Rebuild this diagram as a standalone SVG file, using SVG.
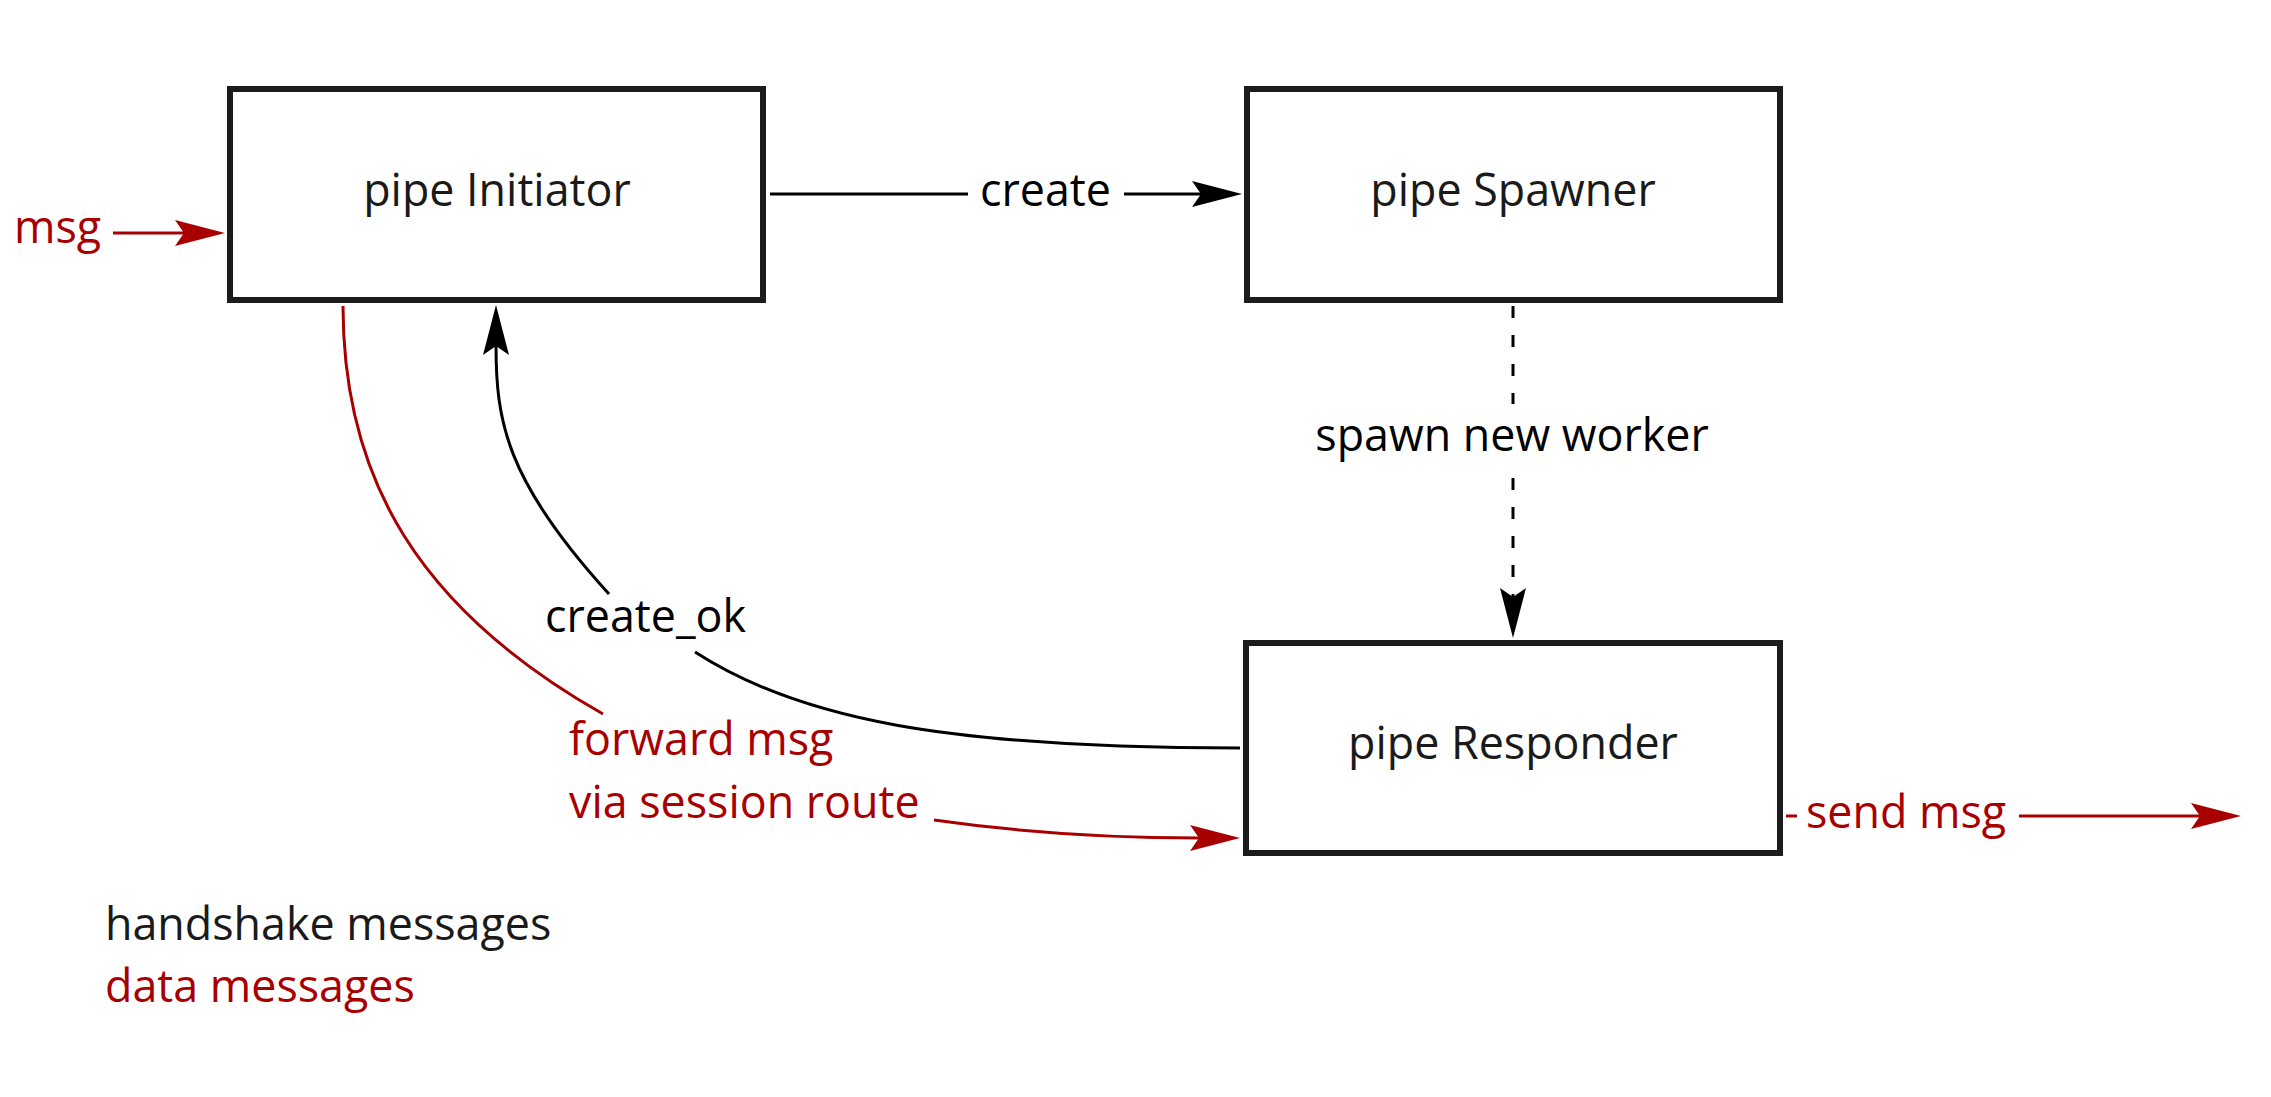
<svg xmlns="http://www.w3.org/2000/svg" width="2271" height="1097" viewBox="0 0 2271 1097">
<style>
text{font-family:"Open Sans","Noto Sans","DejaVu Sans",sans-serif;font-size:44.8px}
.box{fill:#fff;stroke:#1c1c1c;stroke-width:6}
.nt{fill:#1a1a1a;text-anchor:middle}
.lb{fill:#000}
.rd{fill:#a80000}
.hs{fill:#1a1a1a}
.ek{fill:none;stroke:#000;stroke-width:3}
.er{fill:none;stroke:#a80000;stroke-width:3}
</style>
<defs>
<marker id="ak" markerUnits="userSpaceOnUse" markerWidth="50" markerHeight="26" viewBox="0 0 50 26" refX="10" refY="13" orient="auto"><path d="M0,0 L50,13 L0,26 L9,13 z" fill="#000"/></marker>
<marker id="ar" markerUnits="userSpaceOnUse" markerWidth="50" markerHeight="26" viewBox="0 0 50 26" refX="10" refY="13" orient="auto"><path d="M0,0 L50,13 L0,26 L9,13 z" fill="#a80000"/></marker>
</defs>
<rect width="2271" height="1097" fill="#fff"/>
<g id="connectors">
<path class="er" d="M113,233 L185,233" marker-end="url(#ar)"/>
<path class="ek" d="M770,194 L968,194"/>
<path class="ek" d="M1124,194 L1202,194" marker-end="url(#ak)"/>
<path class="ek" d="M1513,306 L1513,404" stroke-dasharray="12 17"/>
<path class="ek" d="M1513,478 L1513,598" stroke-dasharray="12 17" marker-end="url(#ak)"/>
<path class="ek" d="M1240,748 C950,748 800,720 695,652"/>
<path class="ek" d="M609,594 C505,480 496,420 496,345" marker-end="url(#ak)"/>
<path class="er" d="M343,306 C343,480 420,610 603,714"/>
<path class="er" d="M934,820 Q1060,838 1200,838" marker-end="url(#ar)"/>
<path class="er" d="M1786,816 L1797,816"/>
<path class="er" d="M2019,816 L2201,816" marker-end="url(#ar)"/>
</g>
<g id="initiator"><rect class="box" x="230" y="89" width="533" height="211"/><text class="nt" x="497" y="206">pipe Initiator</text></g>
<g id="spawner"><rect class="box" x="1247" y="89" width="533" height="211"/><text class="nt" x="1513" y="206">pipe Spawner</text></g>
<g id="responder"><rect class="box" x="1246" y="643" width="534" height="210"/><text class="nt" x="1513" y="759">pipe Responder</text></g>
<g id="labels">
<text class="rd" x="14" y="243">msg</text>
<text class="lb" x="980" y="206">create</text>
<text class="lb" x="1512" y="451" text-anchor="middle">spawn new worker</text>
<text class="lb" x="545" y="632">create_ok</text>
<text class="rd" x="569" y="755">forward msg</text>
<text class="rd" x="569" y="818">via session route</text>
<text class="rd" x="1806" y="828">send msg</text>
</g>
<g id="legend">
<text class="hs" x="105" y="940">handshake messages</text>
<text class="rd" x="105" y="1002">data messages</text>
</g>
</svg>
